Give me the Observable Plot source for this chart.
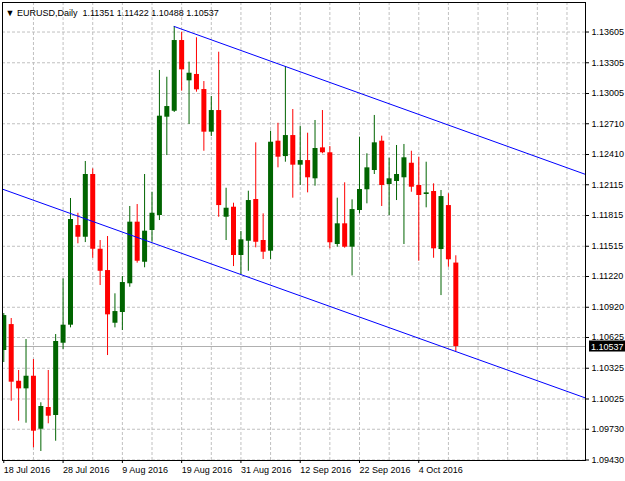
<!DOCTYPE html>
<html><head><meta charset="utf-8">
<script src="https://cdn.jsdelivr.net/npm/d3@7"></script>
<script src="https://cdn.jsdelivr.net/npm/@observablehq/plot@0.6"></script>
<style>body{margin:0;background:#fff;overflow:hidden} svg{display:block}</style>
</head><body><div id="chart"></div>
<script>
const symbol = "EURUSD";
const timeframe = "Daily";
const dates = [
 "2016-07-18","2016-07-19","2016-07-20","2016-07-21","2016-07-22","2016-07-25","2016-07-26","2016-07-27","2016-07-28","2016-07-29",
 "2016-08-01","2016-08-02","2016-08-03","2016-08-04","2016-08-05","2016-08-08","2016-08-09","2016-08-10","2016-08-11","2016-08-12",
 "2016-08-15","2016-08-16","2016-08-17","2016-08-18","2016-08-19","2016-08-22","2016-08-23","2016-08-24","2016-08-25","2016-08-26",
 "2016-08-29","2016-08-30","2016-08-31","2016-09-01","2016-09-02","2016-09-05","2016-09-06","2016-09-07","2016-09-08","2016-09-09",
 "2016-09-12","2016-09-13","2016-09-14","2016-09-15","2016-09-16","2016-09-19","2016-09-20","2016-09-21","2016-09-22","2016-09-23",
 "2016-09-26","2016-09-27","2016-09-28","2016-09-29","2016-09-30","2016-10-03","2016-10-04","2016-10-05","2016-10-06","2016-10-07",
 "2016-10-10","2016-10-11"];
const open = [1.10498,1.10751,1.10198,1.10124,1.10247,1.09730,1.09942,1.09864,1.10569,1.10745,
 1.11717,1.11603,1.12215,1.11486,1.11278,1.10764,1.10869,1.11149,1.11750,1.11359,
 1.11669,1.11815,1.12774,1.12832,1.13522,1.13129,1.13191,1.13044,1.12628,1.12839,
 1.11798,1.11896,1.11425,1.11564,1.11971,1.11571,1.11467,1.12540,1.12390,1.12595,
 1.12306,1.12351,1.12173,1.12475,1.12427,1.11532,1.11734,1.11506,1.11864,1.12066,
 1.12254,1.12540,1.12117,1.12147,1.12183,1.12325,1.12108,1.12020,1.12049,1.11483,
 1.11912,1.11351];
const high = [1.10859,1.10810,1.10303,1.10605,1.10410,1.09988,1.10303,1.10654,1.11197,1.11981,
 1.11837,1.12342,1.12270,1.11571,1.11610,1.11051,1.11220,1.11903,1.11922,1.12215,
 1.12042,1.13230,1.13164,1.13659,1.13603,1.13311,1.13549,1.13122,1.12976,1.13408,
 1.12081,1.11935,1.11659,1.12052,1.12524,1.11831,1.12637,1.12715,1.13269,1.12849,
 1.12686,1.12618,1.12742,1.12839,1.12488,1.11984,1.12134,1.11968,1.12579,1.12417,
 1.12791,1.12589,1.12374,1.12498,1.12508,1.12442,1.12384,1.12335,1.12124,1.12059,
 1.12027,1.11422];
const low = [1.10381,1.10003,1.09808,1.09789,1.09549,1.09513,1.09783,1.09613,1.10508,1.10719,
 1.11539,1.11551,1.11398,1.11132,1.10449,1.10719,1.10693,1.11115,1.11350,1.11305,
 1.11554,1.11766,1.12400,1.12820,1.13028,1.12703,1.13018,1.12442,1.12586,1.11798,
 1.11571,1.11317,1.11239,1.11271,1.11500,1.11386,1.11386,1.12280,1.12335,1.11984,
 1.12108,1.12036,1.12101,1.12417,1.11490,1.11506,1.11496,1.11225,1.11831,1.11929,
 1.12215,1.11903,1.11815,1.11961,1.11532,1.12042,1.11369,1.11890,1.11398,1.11034,
 1.11310,1.10488];
const close = [1.10839,1.10189,1.10124,1.10247,1.09711,1.09952,1.09857,1.10586,1.10745,1.11776,
 1.11603,1.12215,1.11486,1.11271,1.10846,1.10878,1.11161,1.11750,1.11369,1.11662,
 1.11837,1.12784,1.12878,1.13522,1.13236,1.13203,1.13041,1.12628,1.12839,1.11912,
 1.11886,1.11425,1.11578,1.11961,1.11554,1.11457,1.12530,1.12384,1.12595,1.12306,
 1.12351,1.12183,1.12469,1.12427,1.11549,1.11734,1.11506,1.11873,1.12069,1.12280,
 1.12524,1.12108,1.12173,1.12215,1.12378,1.12091,1.12010,1.12036,1.11490,1.12000,
 1.11383,1.10537];
const priceTicks = [1.13605,1.13305,1.13005,1.12710,1.12410,1.12115,1.11815,1.11515,1.11220,1.10920,1.10625,1.10325,1.10025,1.09730,1.09430];
const labelBars = [0,8,16,24,32,40,48,56];
const gridBars = [4,8,12,16,20,24,28,32,36,40,44,48,52,56,60,64,68,72,76];
// trend line anchors: [bar index, price]
const upperAnchors = [[23,1.13659],[38,1.13269]];
const lowerAnchors = [[32,1.11239],[61,1.10488]];
const xDomain = [-0.175, 78.5];
const yDomain = [1.09425, 1.13893];

const bars = dates.map((d, i) => ({i, date: d, o: open[i], h: high[i], l: low[i], c: close[i]}));
const lastBar = bars[bars.length - 1];
const lastPrice = lastBar.c;
const lineAt = (a, x) => a[0][1] + (a[1][1] - a[0][1]) * (x - a[0][0]) / (a[1][0] - a[0][0]);
const upper = [upperAnchors[0][0], xDomain[1]].map(x => ({x, p: lineAt(upperAnchors, x)}));
const lower = [xDomain[0], xDomain[1]].map(x => ({x, p: lineAt(lowerAnchors, x)}));
const fmtDate = d3.utcFormat("%-d %b %Y");
const col = d => d.c >= d.o ? "#006400" : "#ff0000";
const f5 = v => v.toFixed(5);

const chart = Plot.plot({
  width: 625, height: 481,
  marginLeft: 2, marginRight: 40, marginTop: 2, marginBottom: 21,
  style: {fontFamily: "'Liberation Sans', Arial, sans-serif", fontSize: "9px", color: "#000", background: "#fff"},
  x: {type: "linear", domain: xDomain},
  y: {type: "linear", domain: yDomain},
  marks: [
    Plot.gridX(gridBars, {stroke: "#c0c0c0", strokeOpacity: 1, strokeDasharray: "3,2"}),
    Plot.gridY(priceTicks, {stroke: "#c0c0c0", strokeOpacity: 1, strokeDasharray: "3,2"}),
    Plot.ruleY([lastPrice], {stroke: "#b0b0b0"}),
    Plot.ruleX(bars, {x: "i", y1: "l", y2: "h", stroke: col, strokeWidth: 1, clip: true}),
    Plot.ruleX(bars, {x: "i", y1: "o", y2: d => Math.abs(d.c - d.o) < 0.00008 ? d.o + 0.00008 : d.c, stroke: col, strokeWidth: 5, strokeLinecap: "butt", clip: true}),
    Plot.line(upper, {x: "x", y: "p", stroke: "#0000ff", strokeWidth: 1, clip: true}),
    Plot.line(lower, {x: "x", y: "p", stroke: "#0000ff", strokeWidth: 1, clip: true}),
    Plot.axisY(priceTicks, {anchor: "right", tickFormat: f5, tickSize: 3, tickPadding: 3, label: null}),
    Plot.axisX(labelBars, {anchor: "bottom", tickFormat: i => fmtDate(new Date(dates[i])), textAnchor: "start", tickSize: 3, tickPadding: 3, dx: 0, label: null}),
    Plot.frame({stroke: "#000"}),
    Plot.text([`\u25BC ${symbol},${timeframe}\u00a0 ${f5(lastBar.o)} ${f5(lastBar.h)} ${f5(lastBar.l)} ${f5(lastBar.c)}`],
      {frameAnchor: "top-left", dx: 3, dy: 7, textAnchor: "start", fill: "#000", fontSize: 9})
  ]
});
document.getElementById("chart").appendChild(chart);

// current price box on the right axis
const svg = d3.select(chart);
const yPos = chart.scale("y").apply(lastPrice);
const xRight = chart.scale("x").apply(xDomain[1]);
svg.append("rect").attr("x", xRight + 4).attr("y", yPos - 5.5).attr("width", 625 - xRight - 4).attr("height", 11).attr("fill", "#000");
svg.append("text").attr("x", xRight + 6).attr("y", yPos + 3.5).attr("fill", "#fff").attr("text-anchor", "start")
  .attr("font-family", "'Liberation Sans', Arial, sans-serif").attr("font-size", 9).text(f5(lastPrice));
</script></body></html>
